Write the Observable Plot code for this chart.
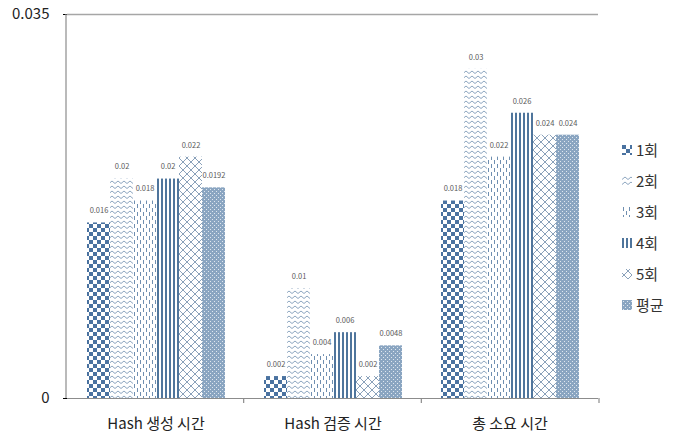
<!DOCTYPE html>
<html>
<head>
<meta charset="utf-8">
<script src="https://cdn.jsdelivr.net/npm/d3@7"></script>
<script src="https://cdn.jsdelivr.net/npm/@observablehq/plot@0.6"></script>
<style>
  body { margin: 0; background: #fff; font-family: "Noto Sans CJK KR", "Noto Sans", sans-serif; }
  #wrap { position: relative; width: 673px; height: 439px; }
  #legend { position: absolute; left: 622px; top: 134px; }
  .item { display: flex; align-items: center; height: 31px; font-size: 15px; color: #333; }
  .item svg { margin-right: 4px; }
</style>
</head>
<body>
<div id="wrap"><div id="legend"></div></div>
<script>
const categories = ["Hash 생성 시간", "Hash 검증 시간", "총 소요 시간"];
const series = ["1회", "2회", "3회", "4회", "5회", "평균"];
const v1 = [0.016, 0.002, 0.018];
const v2 = [0.02, 0.01, 0.03];
const v3 = [0.018, 0.004, 0.022];
const v4 = [0.02, 0.006, 0.026];
const v5 = [0.022, 0.002, 0.024];
const vAvg = [0.0192, 0.0048, 0.024];
const yTicks = [0, 0.035];

const valuesBySeries = [v1, v2, v3, v4, v5, vAvg];
const data = [];
categories.forEach((c, i) => series.forEach((s, j) => data.push({category: c, series: s, value: valuesBySeries[j][i]})));

const patIds = series.map((s, i) => `pat${i}`);

const chart = Plot.plot({
  width: 673,
  height: 439,
  marginLeft: 66,
  marginRight: 74,
  marginTop: 14,
  marginBottom: 41,
  style: {fontFamily: '"Noto Sans CJK KR", "Noto Sans", sans-serif', background: "transparent"},
  fx: {domain: categories, padding: 0, label: null, axis: "bottom", tickSize: 0, tickPadding: 20, fontSize: 15},
  x: {domain: series, paddingInner: 0, paddingOuter: 0.75, axis: null},
  y: {domain: [0, 0.035], ticks: yTicks, tickFormat: d => String(d), tickSize: 4, tickPadding: 14, label: null, fontSize: 15},
  color: {type: "ordinal", domain: series, range: patIds.map(id => `url(#${id})`)},
  marks: [
    Plot.ruleY([0.035], {stroke: "#a6a6a6", strokeWidth: 1.3}),
    Plot.barY(data, {fx: "category", x: "series", y: "value", fill: "series", insetLeft: 0, insetRight: 0}),
    Plot.text(data, {fx: "category", x: "series", y: "value", text: d => String(d.value), dy: -12, fontSize: 7.5, fill: "#595959"}),
    Plot.ruleY([0], {stroke: "#8c8c8c", strokeWidth: 1.2})
  ]
});

// Style axes
d3.select(chart).selectAll('[aria-label^="y-axis tick label"] text, [aria-label^="fx-axis tick label"] text').attr("fill", "#222");
d3.select(chart).selectAll('[aria-label^="y-axis tick label"]').attr("font-size", 15);
d3.select(chart).selectAll('[aria-label^="fx-axis tick label"]').attr("font-size", 15);
d3.select(chart).selectAll('[aria-label="y-axis tick"]').attr("stroke", "#8c8c8c");

// Patterns
const defs = d3.select(chart).insert("defs", ":first-child");
const dark = "#4a72a0";
function pat(id, w, h) {
  const p = defs.append("pattern").attr("id", id).attr("patternUnits", "userSpaceOnUse").attr("width", w).attr("height", h);
  p.append("rect").attr("width", w).attr("height", h).attr("fill", "#fff");
  return p;
}
let p = pat("pat0", 8, 8);
p.append("rect").attr("width", 4).attr("height", 4).attr("fill", dark);
p.append("rect").attr("x", 4).attr("y", 4).attr("width", 4).attr("height", 4).attr("fill", dark);
p = pat("pat1", 6, 5);
p.append("path").attr("d", "M0,3.5 L3,1 L6,3.5").attr("fill", "none").attr("stroke", "#7f9bb8").attr("stroke-width", 0.9);
p = pat("pat2", 6, 8);
p.append("path").attr("d", "M1.5,0 V4 M4.5,4 V8").attr("stroke", "#6f8fb1").attr("stroke-width", 1);
p = pat("pat3", 4, 4);
p.append("rect").attr("width", 2).attr("height", 4).attr("fill", "#4f759c");
p = pat("pat4", 8, 8);
p.append("path").attr("d", "M0,8 L8,0 M0,4 L4,8 M4,0 L8,4").attr("fill", "none").attr("stroke", "#7d96b2").attr("stroke-width", 0.9);
p = defs.append("pattern").attr("id", "pat5").attr("patternUnits", "userSpaceOnUse").attr("width", 4).attr("height", 4);
p.append("rect").attr("width", 4).attr("height", 4).attr("fill", "#8aa5c1");
p.append("rect").attr("x", 1).attr("y", 1).attr("width", 1).attr("height", 1).attr("fill", "#dfe7ef");
p.append("rect").attr("x", 3).attr("y", 3).attr("width", 1).attr("height", 1).attr("fill", "#dfe7ef");

// Axis lines and category boundary ticks from the library's scales
const fxs = chart.scale("fx");
const ys = chart.scale("y");
const band = d3.scaleBand().domain(fxs.domain).range(fxs.range).paddingInner(fxs.paddingInner || 0).paddingOuter(fxs.paddingOuter || 0);
const yl = d3.scaleLinear().domain(ys.domain).range(ys.range);
const g = d3.select(chart).append("g").attr("stroke", "#8c8c8c").attr("stroke-width", 1.2);
const x0 = fxs.range[0];
g.append("line").attr("x1", x0).attr("x2", x0).attr("y1", yl(0.035)).attr("y2", yl(0));
categories.forEach(c => {
  const xe = band(c) + band.bandwidth();
  g.append("line").attr("x1", xe).attr("x2", xe).attr("y1", yl(0)).attr("y2", yl(0) + 5);
});

document.getElementById("wrap").prepend(chart);

// Legend
const legend = d3.select("#legend");
series.forEach((s, i) => {
  const it = legend.append("div").attr("class", "item");
  const sv = it.append("svg").attr("width", 10).attr("height", 10);
  sv.append("rect").attr("width", 10).attr("height", 10).attr("fill", `url(#${patIds[i]})`);
  it.append("span").text(s);
});
</script>
</body>
</html>
